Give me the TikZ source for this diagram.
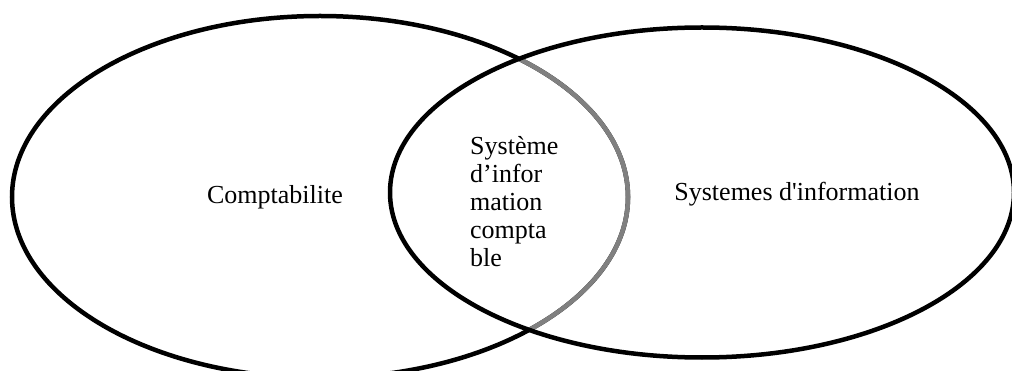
\documentclass[tikz,border=0pt]{standalone}
\usepackage{fontspec}
\setmainfont{Liberation Serif}
\newfontfamily\plainserif{Liberation Serif}
\begin{document}
\begin{tikzpicture}[x=1pt,y=-1pt,
  setline/.style={line width=4.5pt,draw=black},
  innerline/.style={line width=4.6pt,draw=gray},
  lbl/.style={font=\plainserif\fontsize{26}{28}\selectfont,inner sep=0pt}]
\useasboundingbox (0,0) rectangle (1012,371);
% left set (Comptabilite)
\draw[setline] (320,197) ellipse [x radius=308, y radius=181];
% part of left set inside right set, drawn grey
\begin{scope}
  \clip (702,192.5) ellipse [x radius=310, y radius=163];
  \draw[innerline] (320,197) ellipse [x radius=308, y radius=181];
\end{scope}
% right set (Systemes d'information)
\draw[setline] (702,192.5) ellipse [x radius=312, y radius=165];
\node[lbl] (compta) at (275,197) {Comptabilite};
\node[lbl] (si) at (797,194) {Systemes d'information};
\node[lbl,anchor=north west,align=left] (sic) at (470,136)
  {Système\\d’infor\\mation\\compta\\ble};
\end{tikzpicture}
\end{document}
